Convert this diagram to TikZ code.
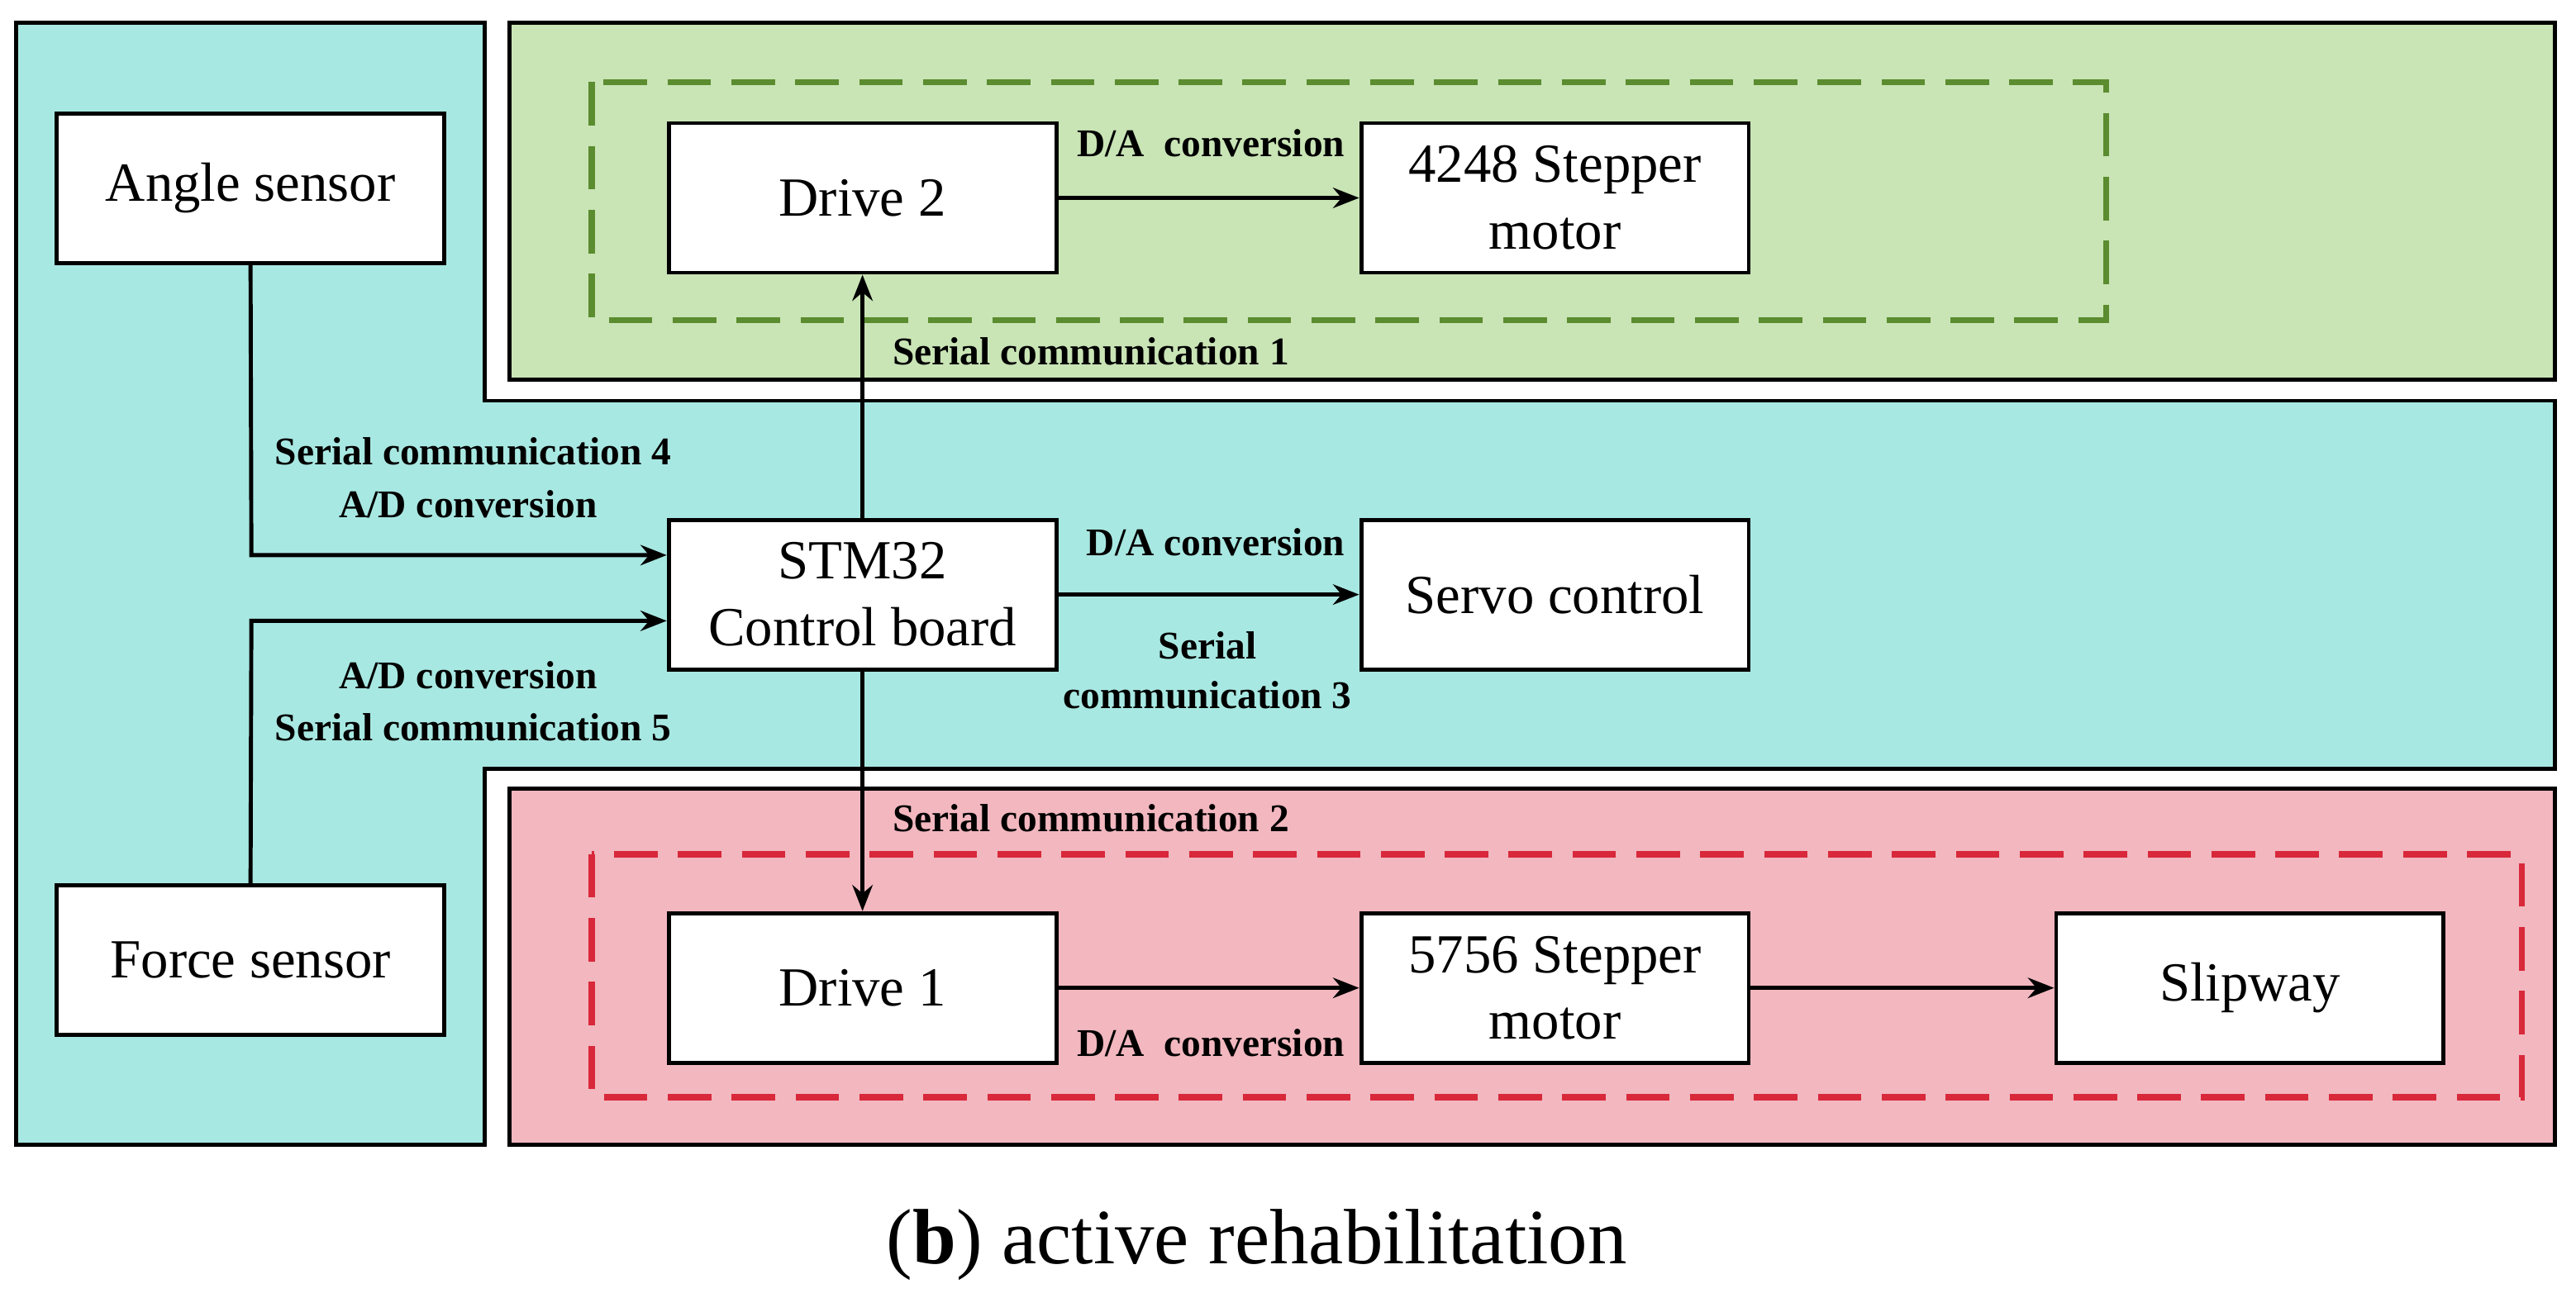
\documentclass[tikz,border=0pt]{standalone}
\usepackage{fontspec}
\setmainfont{Liberation Serif}
\usetikzlibrary{arrows.meta}
\definecolor{cyanbg}{HTML}{A8E8E2}
\definecolor{greenbg}{HTML}{C9E4B5}
\definecolor{redbg}{HTML}{F2B7BF}
\definecolor{greendash}{HTML}{5B8C2F}
\definecolor{reddash}{HTML}{D8283A}
\begin{document}
\begin{tikzpicture}[x=0.01988cm,y=-0.01988cm,
  box/.style={draw,fill=white,line width=1.4pt,minimum width=4.69cm,minimum height=1.81cm,align=center,font=\fontsize{19}{23}\selectfont},
  lab/.style={font=\bfseries\fontsize{13.5}{15}\selectfont,inner sep=0pt},
  arr/.style={line width=1.4pt,-{Stealth[length=9pt,width=7pt]}}]
\useasboundingbox (0,0) rectangle (1568,790);
\fill[white] (0,0) rectangle (1568,790);
\draw[fill=cyanbg,line width=1.4pt] (10,14) -- (295,14) -- (295,244) -- (1555,244) -- (1555,468) -- (295,468) -- (295,697) -- (10,697) -- cycle;
\draw[fill=greenbg,line width=1.4pt] (310,14) rectangle (1555,231);
\draw[fill=redbg,line width=1.4pt] (310,480) rectangle (1555,697);
\draw[greendash,line width=2.2pt,dash pattern=on 15pt off 7pt] (360,50) rectangle (1282,195);
\draw[reddash,line width=2.2pt,dash pattern=on 15pt off 7pt] (360,520) rectangle (1535,668);
\node[box] (angle) at (152.5,114.5) {Angle sensor};
\node[box] (force) at (152.5,584.5) {Force sensor};
\node[box] (drive2) at (525,120.5) {Drive 2};
\node[box] (m4248) at (946.5,120.5) {4248 Stepper\\motor};
\node[box] (stm) at (525,362) {STM32\\Control board};
\node[box] (servo) at (946.5,362) {Servo control};
\node[box] (drive1) at (525,601.5) {Drive 1};
\node[box] (m5756) at (946.5,601.5) {5756 Stepper\\motor};
\node[box] (slip) at (1369.5,601.5) {Slipway};
\coordinate (c1) at (153,338);
\coordinate (c2) at (153,378);
\draw[arr] (angle.south) -- (c1) -- (stm.west |- c1);
\draw[arr] (force.north) -- (c2) -- (stm.west |- c2);
\draw[arr] (stm.north) -- (drive2.south);
\draw[arr] (stm.south) -- (drive1.north);
\draw[arr] (stm) -- (servo);
\draw[arr] (drive2) -- (m4248);
\draw[arr] (drive1) -- (m5756);
\draw[arr] (m5756) -- (slip);
\node[lab] at (737,87) {D/A\ \ conversion};
\node[lab] at (664,214) {Serial communication 1};
\node[lab] at (288,275) {Serial communication 4};
\node[lab] at (285,307) {A/D conversion};
\node[lab] at (740,330) {D/A conversion};
\node[lab] at (735,393) {Serial};
\node[lab] at (735,423) {communication 3};
\node[lab] at (285,411) {A/D conversion};
\node[lab] at (288,443) {Serial communication 5};
\node[lab] at (664,498) {Serial communication 2};
\node[lab] at (737,635) {D/A\ \ conversion};
\node[font=\fontsize{27}{30}\selectfont] (cap) at (765,758) {(\textbf{b}) active rehabilitation};
\end{tikzpicture}
\end{document}
